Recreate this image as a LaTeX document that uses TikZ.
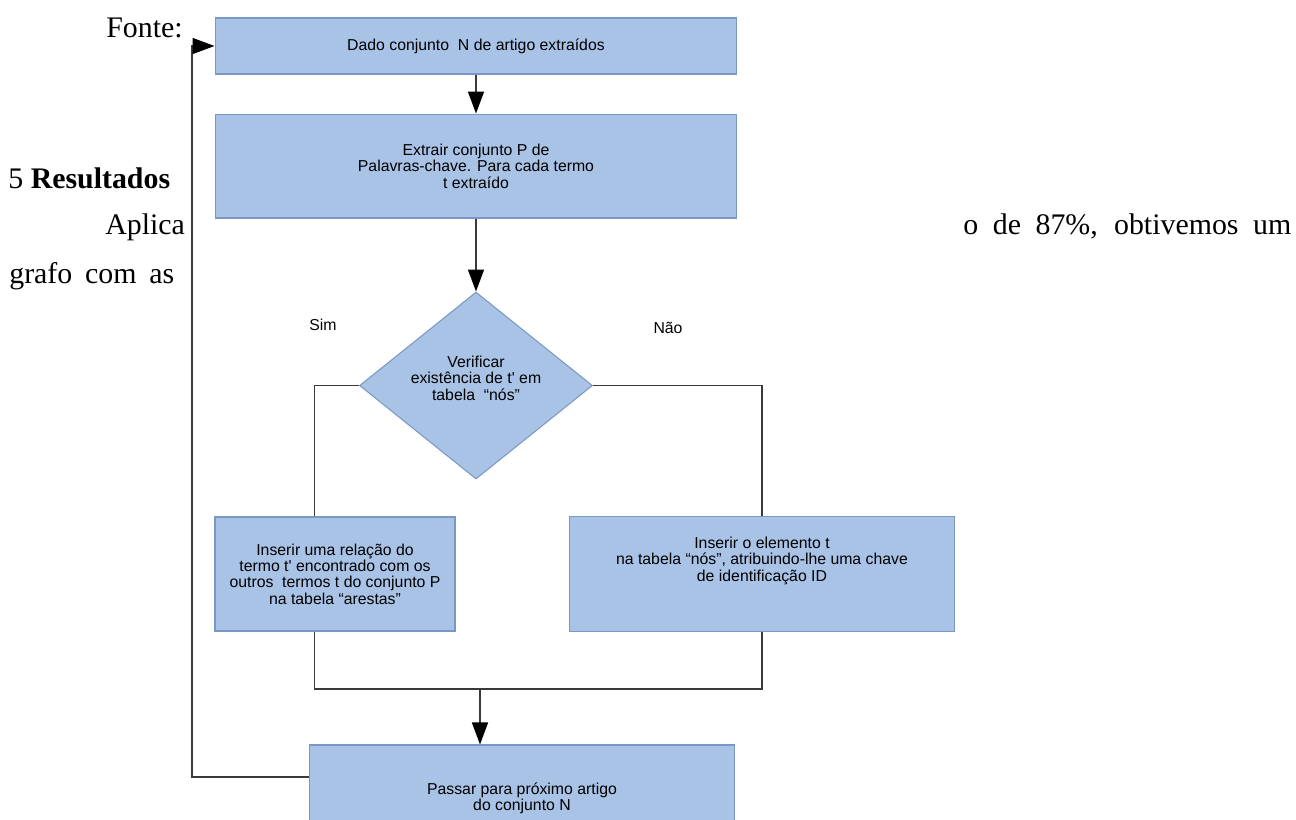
\documentclass[tikz,border=0pt]{standalone}
\usepackage{fontspec}
\setmainfont{Liberation Serif}
\newfontfamily\diagfont{Liberation Sans}
\usetikzlibrary{arrows.meta,positioning,shapes.geometric,calc}
\definecolor{boxblue}{HTML}{A9C3E7}
\definecolor{boxedge}{HTML}{7A98C4}
\definecolor{wire}{HTML}{3A3A3A}

\begin{document}
\begin{tikzpicture}[x=0.02cm,y=-0.02cm,
  blk/.style={draw=boxedge,fill=boxblue,line width=0.6pt,align=center,inner sep=0pt,font=\diagfont\fontsize{9}{9.3}\selectfont},
  dec/.style={blk,diamond,aspect=1.25},
  lbl/.style={font=\diagfont\fontsize{9}{9.3}\selectfont},
  txt/.style={font=\fontsize{17}{20}\selectfont,inner sep=0pt,anchor=base west},
  ln/.style={wire,line width=0.8pt},
  ar/.style={ln,-{Triangle[length=0.44cm,width=0.32cm,color=black]}}]
  \useasboundingbox (0,0) rectangle (1296,819);
  \clip (0,0) rectangle (1296,819);
  % texto da pagina
  \node[txt] (fonte) at (106,37) {Fonte:};
  \node[txt] (secao) at (8,188) {5 \textbf{Resultados}};
  \node[txt] (aplica) at (105,234) {Aplica};
  \node[txt] (grafo) at (9,283) {\makebox[3.3cm][s]{grafo com as}};
  \node[txt] (resto) at (963,234) {\makebox[6.56cm][s]{o de 87\%, obtivemos um}};
  % fluxograma
  \node[blk,minimum width=10.44cm,minimum height=1.12cm] (dado) at (476,46) {Dado conjunto\ \ N de artigo extraídos};
  \node[blk,minimum width=10.44cm,minimum height=2.08cm,below=0.78cm of dado] (extrair) {Extrair conjunto P de\\Palavras-chave. Para cada termo\\t extraído};
  \node[dec,minimum width=4.66cm,minimum height=3.74cm,text depth=0.3cm,below=1.46cm of extrair] (verif) {Verificar\\existência de t' em\\tabela\ \ “nós”};
  \node[blk,minimum width=4.8cm,minimum height=2.28cm] (relacao) at (335,574) {Inserir uma relação do\\termo t' encontrado com os\\outros\ \ termos t do conjunto P\\na tabela “arestas”};
  \node[blk,minimum width=7.7cm,minimum height=2.3cm,text depth=0.6cm] (inserir) at (762,574) {Inserir o elemento t\\na tabela “nós”, atribuindo-lhe uma chave\\de identificação ID};
  \node[blk,minimum width=8.5cm,minimum height=2.12cm] (passar) at (522,798) {Passar para próximo artigo\\do conjunto N};
  \node[lbl] (sim) at (323,325) {Sim};
  \node[lbl] (nao) at (668,328) {Não};
  \coordinate (junta) at (480,689);
  \draw[ar] (dado) -- (extrair);
  \draw[ar] (extrair) -- (verif);
  \draw[ln] (verif.west) -| ([xshift=2cm]relacao.north west);
  \draw[ln] (verif.east) -| (inserir.north);
  \draw[ln] ([xshift=2cm]relacao.south west) |- (junta);
  \draw[ln] (inserir.south) |- (junta);
  \draw[ar] (junta) -- (junta |- passar.north);
  \draw[ar] ([yshift=0.42cm]passar.west) -- ++(-2.34cm,0) |- (dado.west);
\end{tikzpicture}
\end{document}
